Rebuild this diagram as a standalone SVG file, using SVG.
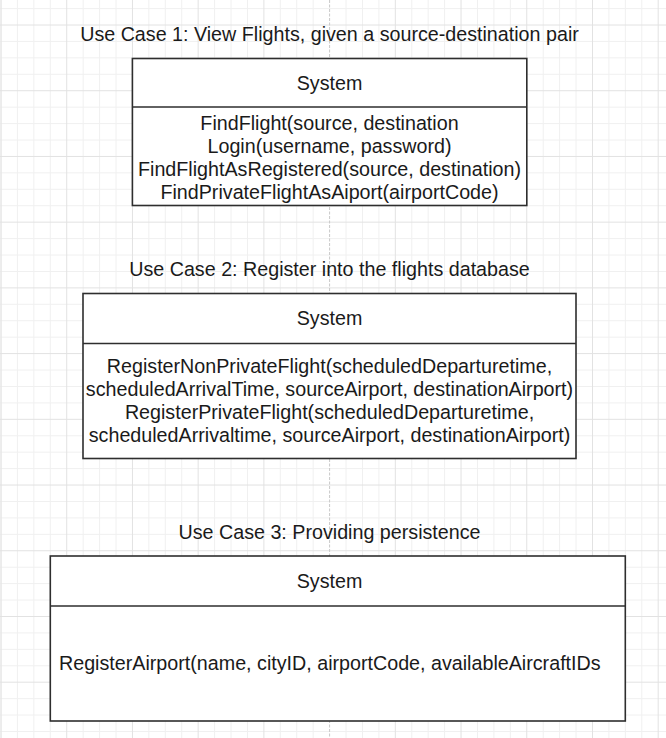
<svg xmlns="http://www.w3.org/2000/svg" width="666" height="738" viewBox="0 0 666 738">
<style>
.minor{stroke:#f0f0f0;stroke-width:1;fill:none}
.major{stroke:#e2e2e2;stroke-width:1;fill:none}
.page{stroke:#c8c8c8;stroke-width:1;stroke-dasharray:3 1.5;fill:none}
.box{fill:#ffffff;stroke:#2e2e2e;stroke-width:1.6}
.sep{stroke:#2e2e2e;stroke-width:1.6}
text{font-family:"Liberation Sans",Arial,Helvetica,sans-serif;font-size:19.7px;fill:#1a1a1a;text-anchor:middle}
.left{text-anchor:start}
</style>
<rect width="666" height="738" fill="#ffffff"/>
<g id="grid">
<path class="minor" d="M1 0V738M17.43 0V738M33.86 0V738M50.29 0V738M83.15 0V738M99.58 0V738M116.01 0V738M148.87 0V738M165.3 0V738M181.73 0V738M214.59 0V738M231.02 0V738M247.45 0V738M280.31 0V738M296.74 0V738M313.17 0V738M346.03 0V738M362.46 0V738M378.89 0V738M411.75 0V738M428.18 0V738M444.61 0V738M477.47 0V738M493.9 0V738M510.33 0V738M543.19 0V738M559.62 0V738M576.05 0V738M608.91 0V738M625.34 0V738M641.77 0V738
M0 8.57H666M0 41.43H666M0 57.86H666M0 74.29H666M0 107.15H666M0 123.58H666M0 140.01H666M0 172.87H666M0 189.3H666M0 205.73H666M0 238.59H666M0 255.02H666M0 271.45H666M0 304.31H666M0 320.74H666M0 337.17H666M0 370.03H666M0 386.46H666M0 402.89H666M0 435.75H666M0 452.18H666M0 468.61H666M0 501.47H666M0 517.9H666M0 534.33H666M0 567.19H666M0 583.62H666M0 600.05H666M0 632.91H666M0 649.34H666M0 665.77H666M0 698.63H666M0 715.06H666M0 731.49H666"/>
<path class="major" d="M1 0V738M66.72 0V738M132.44 0V738M198.16 0V738M263.88 0V738M395.32 0V738M461.04 0V738M526.76 0V738M592.48 0V738M658.2 0V738
M0 25H666M0 90.72H666M0 156.44H666M0 222.16H666M0 287.88H666M0 353.6H666M0 419.32H666M0 485.04H666M0 550.76H666M0 616.48H666M0 682.2H666"/>
<path class="page" d="M329.6 0V738"/>
</g>
<g id="connectors"></g>
<g id="title1"><text x="329.5" y="41">Use Case 1: View Flights, given a source-destination pair</text></g>
<g id="system1">
<rect class="box" x="132.4" y="58.5" width="394.4" height="147"/>
<line class="sep" x1="132.4" y1="107" x2="526.8" y2="107"/>
<text x="329.5" y="90">System</text>
<text x="329.5" y="129.5">FindFlight(source, destination</text>
<text x="329.5" y="152.8">Login(username, password)</text>
<text x="329.5" y="176.1">FindFlightAsRegistered(source, destination)</text>
<text x="329.5" y="199.4">FindPrivateFlightAsAiport(airportCode)</text>
</g>
<g id="title2"><text x="329.5" y="275.7">Use Case 2: Register into the flights database</text></g>
<g id="system2">
<rect class="box" x="83" y="293.5" width="493" height="165"/>
<line class="sep" x1="83" y1="343.5" x2="576" y2="343.5"/>
<text x="329.5" y="324.5">System</text>
<text x="329.5" y="373.3">RegisterNonPrivateFlight(scheduledDeparturetime,</text>
<text x="329.5" y="396.3">scheduledArrivalTime, sourceAirport, destinationAirport)</text>
<text x="329.5" y="419.3">RegisterPrivateFlight(scheduledDeparturetime,</text>
<text x="329.5" y="442.3">scheduledArrivaltime, sourceAirport, destinationAirport)</text>
</g>
<g id="title3"><text x="329.5" y="538.5">Use Case 3: Providing persistence</text></g>
<g id="system3">
<rect class="box" x="50.3" y="556" width="575" height="165"/>
<line class="sep" x1="50.3" y1="606" x2="625.3" y2="606"/>
<text x="329.5" y="588">System</text>
<text class="left" x="59" y="670">RegisterAirport(name, cityID, airportCode, availableAircraftIDs</text>
</g>
</svg>
